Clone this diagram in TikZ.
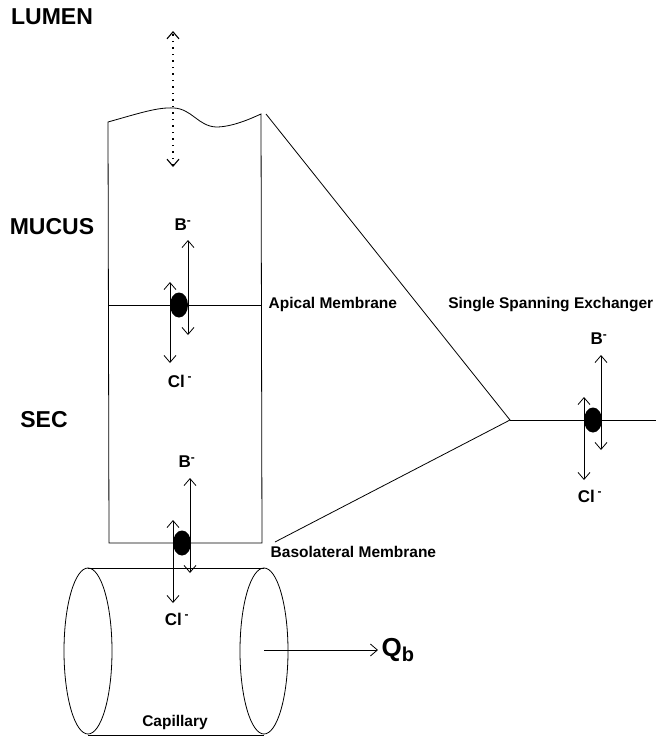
\documentclass[tikz,border=0pt]{standalone}
\usepackage{fontspec}
\setmainfont{Liberation Sans}
\usetikzlibrary{arrows.meta,shapes.geometric}

\begin{document}
\begin{tikzpicture}[x=1pt,y=-1pt,line width=.8pt,
    lbl/.style={font=\bfseries\fontsize{15.5}{17}\selectfont},
    big/.style={font=\bfseries\fontsize{23}{26}\selectfont},
    ion/.style={font=\bfseries\fontsize{17}{19}\selectfont},
    carrier/.style={ellipse,fill=black,minimum width=18pt,minimum height=25pt,inner sep=0pt},
    flux/.style={{Straight Barb[length=7pt,width=12pt]}-{Straight Barb[length=7pt,width=12pt]}}]
        \useasboundingbox (0,0) rectangle (656,739);

        % region labels
        \node[big] (lumen) at (52,17) {LUMEN};
        \node[big] (mucus) at (52,227) {MUCUS};
        \node[big] (sec) at (44,420) {SEC};

        % cell with mucus layer
        \draw (109,543) -- (108,122) .. controls (140,113) and (158,107) .. (174,108)
              .. controls (192,109) and (198,126) .. (216,127)
              .. controls (232,127) and (250,119) .. (261,114) -- (262,543) -- cycle;
        \draw[dash pattern=on 1.5pt off 5pt,line width=1.1pt,flux] (173,167) -- (173,31);

        % apical membrane
        \draw (108,305) -- (262,305);
        \node[carrier] (apc) at (179,305) {};
        \draw[flux] (188,335) -- (188,240);
        \draw[flux] (170,363) -- (170,282);
        \node[ion] (apb) at (183,225) {B\textsuperscript{-}};
        \node[ion] (apcl) at (180,381) {Cl\,\textsuperscript{-}};
        \node[lbl,anchor=west] (aplbl) at (265,304) {Apical Membrane};

        % basolateral membrane
        \node[carrier] (blc) at (182,543) {};
        \draw[flux] (190,573) -- (190,478);
        \draw[flux] (173,603) -- (173,520);
        \node[ion] (blb) at (187,462) {B\textsuperscript{-}};
        \node[ion] (blcl) at (177,619) {Cl\,\textsuperscript{-}};
        \node[lbl,anchor=west] (bllbl) at (267,552) {Basolateral Membrane};

        % zoom to single exchanger
        \coordinate (apex) at (510,420);
        \draw (266,114) -- (apex) -- (275,542);
        \draw (apex) -- (656,420);
        \node[carrier] (sxc) at (593,420) {};
        \draw[flux] (601,450) -- (601,355);
        \draw[flux] (584,480) -- (584,397);
        \node[ion] (sxb) at (599,339) {B\textsuperscript{-}};
        \node[ion] (sxcl) at (590,496) {Cl\,\textsuperscript{-}};
        \node[lbl,anchor=east] (sxlbl) at (657,305) {Single Spanning Exchanger};

        % capillary
        \draw (88,568) -- (264,568);
        \draw (88,735) -- (264,735);
        \draw (88,651) ellipse [x radius=24,y radius=83];
        \draw (264,651) ellipse [x radius=24,y radius=83];
        \node[lbl] (cap) at (175,722) {Capillary};
        \node[font=\bfseries\fontsize{26}{28}\selectfont,anchor=west] (qb) at (378,650) {Q\raisebox{-.35ex}{\fontsize{20}{20}\selectfont b}};
        \draw[-{Straight Barb[length=7pt,width=12pt]}] (264,650) -- (qb.west);
      \end{tikzpicture}
\end{document}
